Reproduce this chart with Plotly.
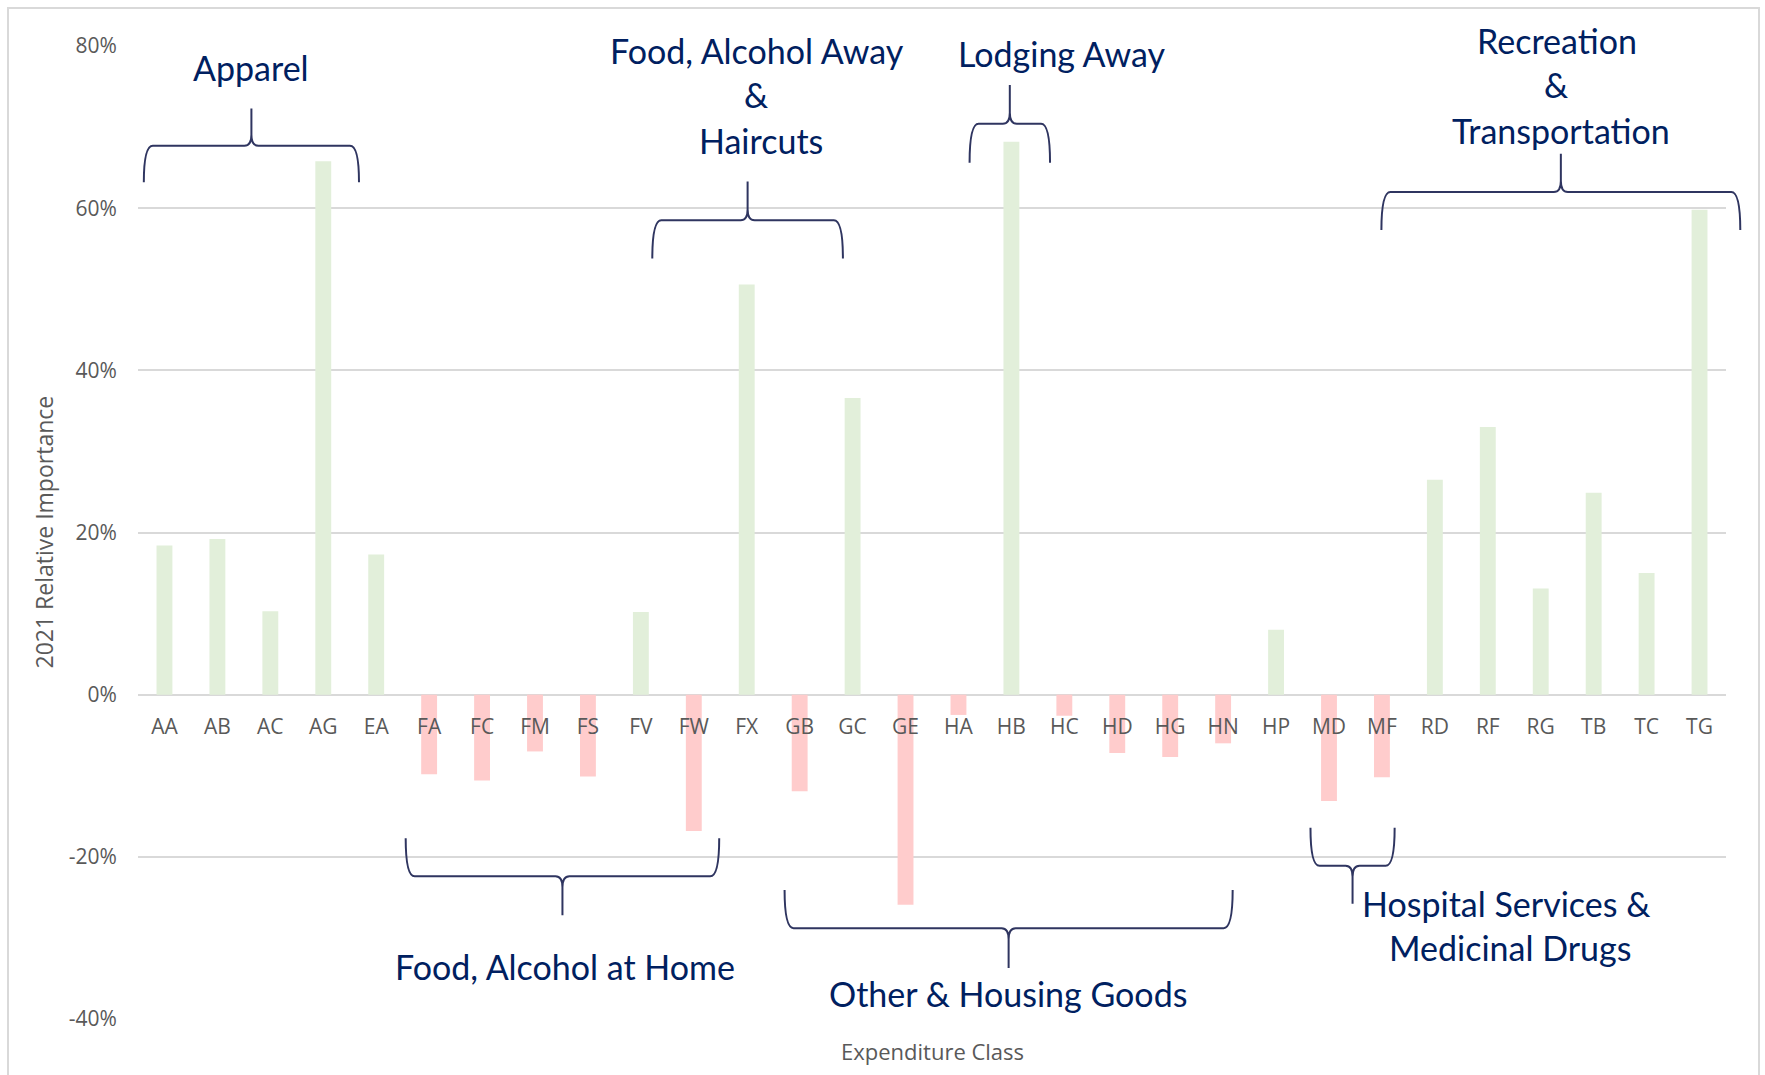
import plotly.graph_objects as go

# ---------------- data ----------------
categories = ["AA", "AB", "AC", "AG", "EA", "FA", "FC", "FM", "FS", "FV",
              "FW", "FX", "GB", "GC", "GE", "HA", "HB", "HC", "HD", "HG",
              "HN", "HP", "MD", "MF", "RD", "RF", "RG", "TB", "TC", "TG"]
values_pct = [18.4, 19.2, 10.3, 65.8, 17.3, -9.8, -10.6, -7.0, -10.1, 10.2,
              -16.8, 50.6, -11.9, 36.6, -25.9, -2.5, 68.2, -2.6, -7.2, -7.7,
              -6.0, 8.0, -13.1, -10.2, 26.5, 33.0, 13.1, 24.9, 15.0, 59.8]
y_ticks_pct = [-40, -20, 0, 20, 40, 60, 80]

# group braces (in data units: x = category index, y = value fraction)
group_labels = [
    ["Apparel"],
    ["Food, Alcohol Away", "&", "Haircuts"],
    ["Lodging Away"],
    ["Recreation", "&", "Transportation"],
    ["Food, Alcohol at Home"],
    ["Other & Housing Goods"],
    ["Hospital Services &", "Medicinal Drugs"],
]
brace_x = [(-0.39, 3.675), (9.216, 12.817), (15.21, 16.73), (22.99, 29.77),
           (4.557, 10.48), (11.715, 20.18), (21.65, 23.24)]
brace_y = [(0.632, 0.677, 0.723), (0.538, 0.585, 0.633), (0.656, 0.704, 0.752),
           (0.573, 0.620, 0.667), (-0.177, -0.224, -0.272), (-0.241, -0.288, -0.337),
           (-0.164, -0.211, -0.258)]
label_x = [[1.635], [11.19, 11.175, 11.27], [16.96], [26.30, 26.29, 26.38],
           [7.567], [15.94], [25.34, 25.42]]
label_y = [[0.773], [0.795, 0.740, 0.684], [0.791], [0.807, 0.752, 0.696],
           [-0.335], [-0.369], [-0.257, -0.312]]

# ---------------- layout constants ----------------
W, H = 1765, 1075
ML, MR, MT, MB = 138, 39, 46, 56
Y_MIN, Y_MAX = -0.4, 0.8
X_MIN, X_MAX = -0.5, len(categories) - 0.5
GREEN = "#E2EFDA"
RED = "#FFCCCC"
NAVY = "#002060"
BRACE = "#2F3560"
GRAY_TXT = "#595959"
GRID = "#D9D9D9"

xs = list(range(len(categories)))
vals = [v / 100 for v in values_pct]
colors = [GREEN if v >= 0 else RED for v in vals]

fig = go.Figure()
fig.add_trace(go.Bar(x=xs, y=vals, marker=dict(color=colors, line=dict(width=0)),
                     width=0.3, showlegend=False, hoverinfo="x+y"))

plot_w = W - ML - MR
plot_h = H - MT - MB

def dx2p(x):  # data x -> paper
    return (x - X_MIN) / (X_MAX - X_MIN)

def dy2p(y):  # data y -> paper
    return (y - Y_MIN) / (Y_MAX - Y_MIN)

def px2paper_x(px):
    return (px - ML) / plot_w

def py2paper_y(py):
    return (H - MB - py) / plot_h

def brace_path(x0, x1, y_end, y_bar, y_tip):
    X0, X1 = dx2p(x0), dx2p(x1)
    XT = (X0 + X1) / 2
    YE, YB, YT = dy2p(y_end), dy2p(y_bar), dy2p(y_tip)
    s = 1 if YT > YB else -1
    rx = 9 / plot_w
    tw = 7 / plot_w
    th = 11 / plot_h
    return (f"M {X0},{YE} Q {X0},{YB} {X0 + rx},{YB} "
            f"L {XT - tw},{YB} Q {XT},{YB} {XT},{YB + s * th} L {XT},{YT} "
            f"M {X1},{YE} Q {X1},{YB} {X1 - rx},{YB} "
            f"L {XT + tw},{YB} Q {XT},{YB} {XT},{YB + s * th}")

shapes = []
for (x0, x1), (ye, yb, yt) in zip(brace_x, brace_y):
    shapes.append(dict(type="path", xref="paper", yref="paper",
                       path=brace_path(x0, x1, ye, yb, yt),
                       line=dict(color=BRACE, width=2), layer="above"))

# outer chart border
shapes.append(dict(type="rect", xref="paper", yref="paper",
                   x0=px2paper_x(8), x1=px2paper_x(1759),
                   y0=py2paper_y(1090), y1=py2paper_y(8),
                   line=dict(color=GRID, width=2), fillcolor="rgba(0,0,0,0)", layer="below"))

annotations = []
for lines, lx, ly in zip(group_labels, label_x, label_y):
    for t, x, y in zip(lines, lx, ly):
        annotations.append(dict(text=t, x=dx2p(x), y=dy2p(y), xref="paper", yref="paper",
                                showarrow=False, xanchor="center", yanchor="middle",
                                font=dict(family="Lato", size=34, color=NAVY)))

# axis titles
annotations.append(dict(text="2021 Relative Importance", textangle=-90,
                        x=px2paper_x(43), y=0.5, xref="paper", yref="paper",
                        showarrow=False, xanchor="center", yanchor="middle",
                        font=dict(family="Open Sans", size=23, color=GRAY_TXT)))
annotations.append(dict(text="Expenditure Class",
                        x=0.5, y=py2paper_y(1051), xref="paper", yref="paper",
                        showarrow=False, xanchor="center", yanchor="middle",
                        font=dict(family="Open Sans", size=22, color=GRAY_TXT)))

zero_pos = dy2p(0)

fig.update_layout(
    width=W, height=H,
    margin=dict(l=ML, r=MR, t=MT, b=MB, pad=0),
    paper_bgcolor="white", plot_bgcolor="white",
    shapes=shapes, annotations=annotations,
    xaxis=dict(range=[X_MIN, X_MAX], tickmode="array",
               tickvals=xs, ticktext=categories, showgrid=False, zeroline=False,
               showline=False, anchor="free", position=zero_pos,
               ticks="outside", ticklen=13, tickcolor="rgba(0,0,0,0)",
               tickfont=dict(family="Open Sans", size=21, color=GRAY_TXT)),
    yaxis=dict(range=[Y_MIN, Y_MAX], tickmode="array",
               tickvals=[t / 100 for t in y_ticks_pct],
               ticktext=[f"{t}%" for t in y_ticks_pct],
               showgrid=True, gridcolor=GRID, gridwidth=2,
               zeroline=True, zerolinecolor=GRID, zerolinewidth=2,
               showline=False, ticks="outside", ticklen=16, tickcolor="rgba(0,0,0,0)",
               tickfont=dict(family="Open Sans", size=21, color=GRAY_TXT)),
)

fig.write_html("out.html", config={"displayModeBar": False},
               post_script="document.body.style.margin='0';")
